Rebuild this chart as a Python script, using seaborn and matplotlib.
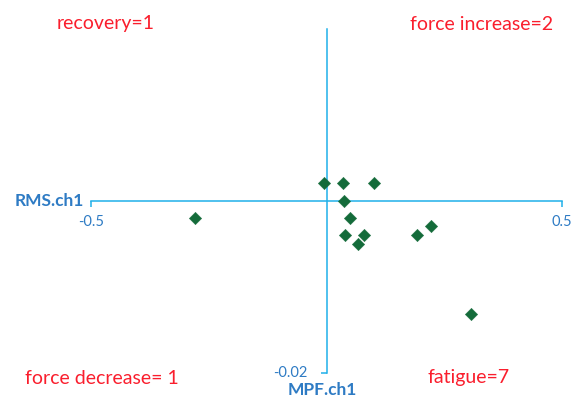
import matplotlib
matplotlib.use("Agg")
import matplotlib.pyplot as plt
import seaborn as sns
import pandas as pd

# Data
rms_ch1 = [-0.005, 0.036, 0.101, 0.038, 0.050, 0.040, 0.080, 0.066, 0.193, 0.222, 0.306, -0.280]
mpf_ch1 = [0.0021, 0.0021, 0.0021, 0.0000, -0.0020, -0.0040, -0.0039, -0.0050, -0.0040, -0.0029, -0.0131, -0.0020]
x_ticks = [-0.5, 0.5]
x_tick_labels = ["-0.5", "0.5"]
y_ticks = [-0.02]
y_tick_labels = ["-0.02"]
quadrant_labels = ["recovery=1", "force increase=2", "force decrease= 1", "fatigue=7"]
x_title = "RMS.ch1"
y_title = "MPF.ch1"

df = pd.DataFrame({"RMS.ch1": rms_ch1, "MPF.ch1": mpf_ch1})

sns.set_style("white")
plt.rcParams["font.family"] = ["Lato", "DejaVu Sans"]

W, H = 583, 412
fig = plt.figure(figsize=(W / 100, H / 100), dpi=100)
x0, x1 = 91, 562
ytop, ybot = 29, 373
ax = fig.add_axes([x0 / W, (H - ybot) / H, (x1 - x0) / W, (ybot - ytop) / H])

axis_col = "#1FB0EA"
text_col = "#2E7BC4"

sns.scatterplot(data=df, x="RMS.ch1", y="MPF.ch1", marker="D", s=40,
                color="#146B3A", edgecolor="#146B3A", linewidth=0.3, ax=ax, zorder=3)

ax.set_xlim(-0.5, 0.5)
ax.set_ylim(-0.02, 0.02)
for s in ["top", "right"]:
    ax.spines[s].set_visible(False)
ax.spines["left"].set_position("zero")
ax.spines["bottom"].set_position("zero")
for s in ["left", "bottom"]:
    ax.spines[s].set_color(axis_col)
    ax.spines[s].set_linewidth(1.1)
    ax.spines[s].set_zorder(1)

ax.set_xticks(x_ticks)
ax.set_xticklabels(x_tick_labels)
ax.set_yticks(y_ticks)
ax.set_yticklabels(y_tick_labels)
ax.tick_params(axis="x", direction="out", length=4, width=1.1, color=axis_col,
               labelcolor=text_col, labelsize=10.5, pad=6, bottom=True)
ax.tick_params(axis="y", direction="out", length=4, width=1.1, color=axis_col,
               labelcolor=text_col, labelsize=10.5, pad=10, left=True)
for lab in ax.get_yticklabels():
    lab.set_verticalalignment("center")
ax.set_xlabel("")
ax.set_ylabel("")
ax.grid(False)

fig.text(49 / W, 1 - 201 / H, x_title, color=text_col, fontsize=12.5, fontweight="bold",
         ha="center", va="center")
fig.text(322 / W, 1 - 390 / H, y_title, color=text_col, fontsize=12.5, fontweight="bold",
         ha="center", va="center")

red = "#FA1E2D"
pos = [(106, 29.5), (482, 30), (101.5, 384.5), (468.5, 383)]
for lab, (px, py) in zip(quadrant_labels, pos):
    fig.text(px / W, 1 - py / H, lab, color=red, fontsize=14, ha="center", va="baseline")

fig.savefig("out.png", dpi=100)
